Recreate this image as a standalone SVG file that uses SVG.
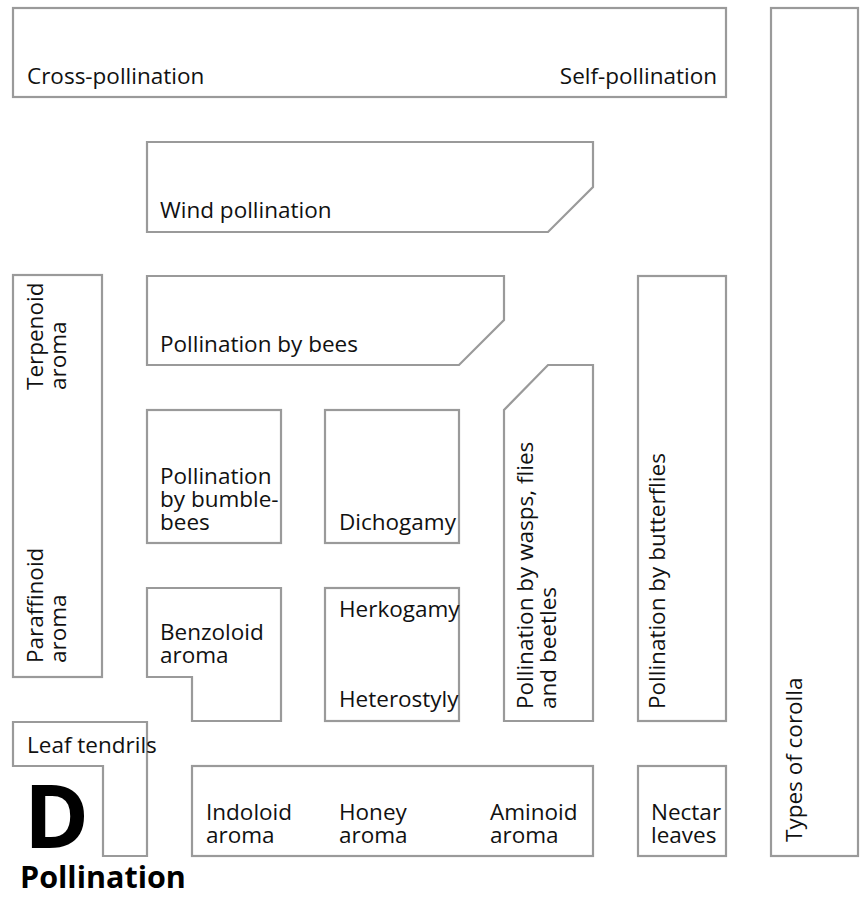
<svg xmlns="http://www.w3.org/2000/svg" width="864" height="897" viewBox="0 0 864 897">
<style>
.b{fill:#fff;stroke:#9a9a9a;stroke-width:2.2}
text{font-family:"Open Sans","Noto Sans","Liberation Sans",sans-serif;font-size:22.5px;fill:#111}
.big{font-weight:bold;font-size:88px;fill:#000}
.ttl{font-weight:bold;font-size:30.5px;fill:#000}
</style>
<rect width="864" height="897" fill="#fff"/>
<g id="pollination-type">
<rect class="b" x="13" y="8" width="713" height="89"/>
<text x="27" y="84">Cross-pollination</text>
<text x="717" y="84" text-anchor="end">Self-pollination</text>
</g>
<g id="types-of-corolla">
<rect class="b" x="771" y="8" width="87" height="848"/>
<text transform="translate(802,842) rotate(-90)">Types of corolla</text>
</g>
<g id="wind">
<polygon class="b" points="147,142 593,142 593,187 548,232 147,232"/>
<text x="160" y="218">Wind pollination</text>
</g>
<g id="bees">
<polygon class="b" points="147,276 504,276 504,320 459,365 147,365"/>
<text x="160" y="352">Pollination by bees</text>
</g>
<g id="aroma-left">
<rect class="b" x="13" y="275" width="89" height="402"/>
<text transform="translate(43,390) rotate(-90)"><tspan x="0" y="0">Terpenoid</tspan><tspan x="0" y="23">aroma</tspan></text>
<text transform="translate(43,663) rotate(-90)"><tspan x="0" y="0">Paraffinoid</tspan><tspan x="0" y="23">aroma</tspan></text>
</g>
<g id="bumblebees">
<rect class="b" x="147" y="410" width="134" height="133"/>
<text><tspan x="160" y="484">Pollination</tspan><tspan x="160" y="507">by bumble-</tspan><tspan x="160" y="530">bees</tspan></text>
</g>
<g id="dichogamy">
<rect class="b" x="325" y="410" width="134" height="133"/>
<text x="339" y="530">Dichogamy</text>
</g>
<g id="benzoloid">
<polygon class="b" points="147,588 281,588 281,721 192,721 192,677 147,677"/>
<text><tspan x="160" y="640">Benzoloid</tspan><tspan x="160" y="663">aroma</tspan></text>
</g>
<g id="herkogamy">
<rect class="b" x="325" y="588" width="134" height="133"/>
<text x="339" y="617">Herkogamy</text>
<text x="339" y="707">Heterostyly</text>
</g>
<g id="wasps">
<polygon class="b" points="548,365 593,365 593,721 504,721 504,410"/>
<text transform="translate(533,709) rotate(-90)"><tspan x="0" y="0">Pollination by wasps, flies</tspan><tspan x="0" y="23">and beetles</tspan></text>
</g>
<g id="butterflies">
<rect class="b" x="638" y="276" width="88" height="445"/>
<text transform="translate(665,709) rotate(-90)">Pollination by butterflies</text>
</g>
<g id="leaf-tendrils">
<polygon class="b" points="13,722 147,722 147,856 103,856 103,766 13,766"/>
<text x="27" y="753">Leaf tendrils</text>
</g>
<g id="aroma-bottom">
<rect class="b" x="192" y="766" width="401" height="90"/>
<text><tspan x="206" y="820">Indoloid</tspan><tspan x="206" y="843">aroma</tspan></text>
<text><tspan x="339" y="820">Honey</tspan><tspan x="339" y="843">aroma</tspan></text>
<text><tspan x="490" y="820">Aminoid</tspan><tspan x="490" y="843">aroma</tspan></text>
</g>
<g id="nectar-leaves">
<rect class="b" x="638" y="766" width="88" height="90"/>
<text><tspan x="651" y="820">Nectar</tspan><tspan x="651" y="843">leaves</tspan></text>
</g>
<g id="label">
<text class="big" x="24" y="848">D</text>
<text class="ttl" x="20" y="888">Pollination</text>
</g>
<g id="connectors"/>
</svg>
